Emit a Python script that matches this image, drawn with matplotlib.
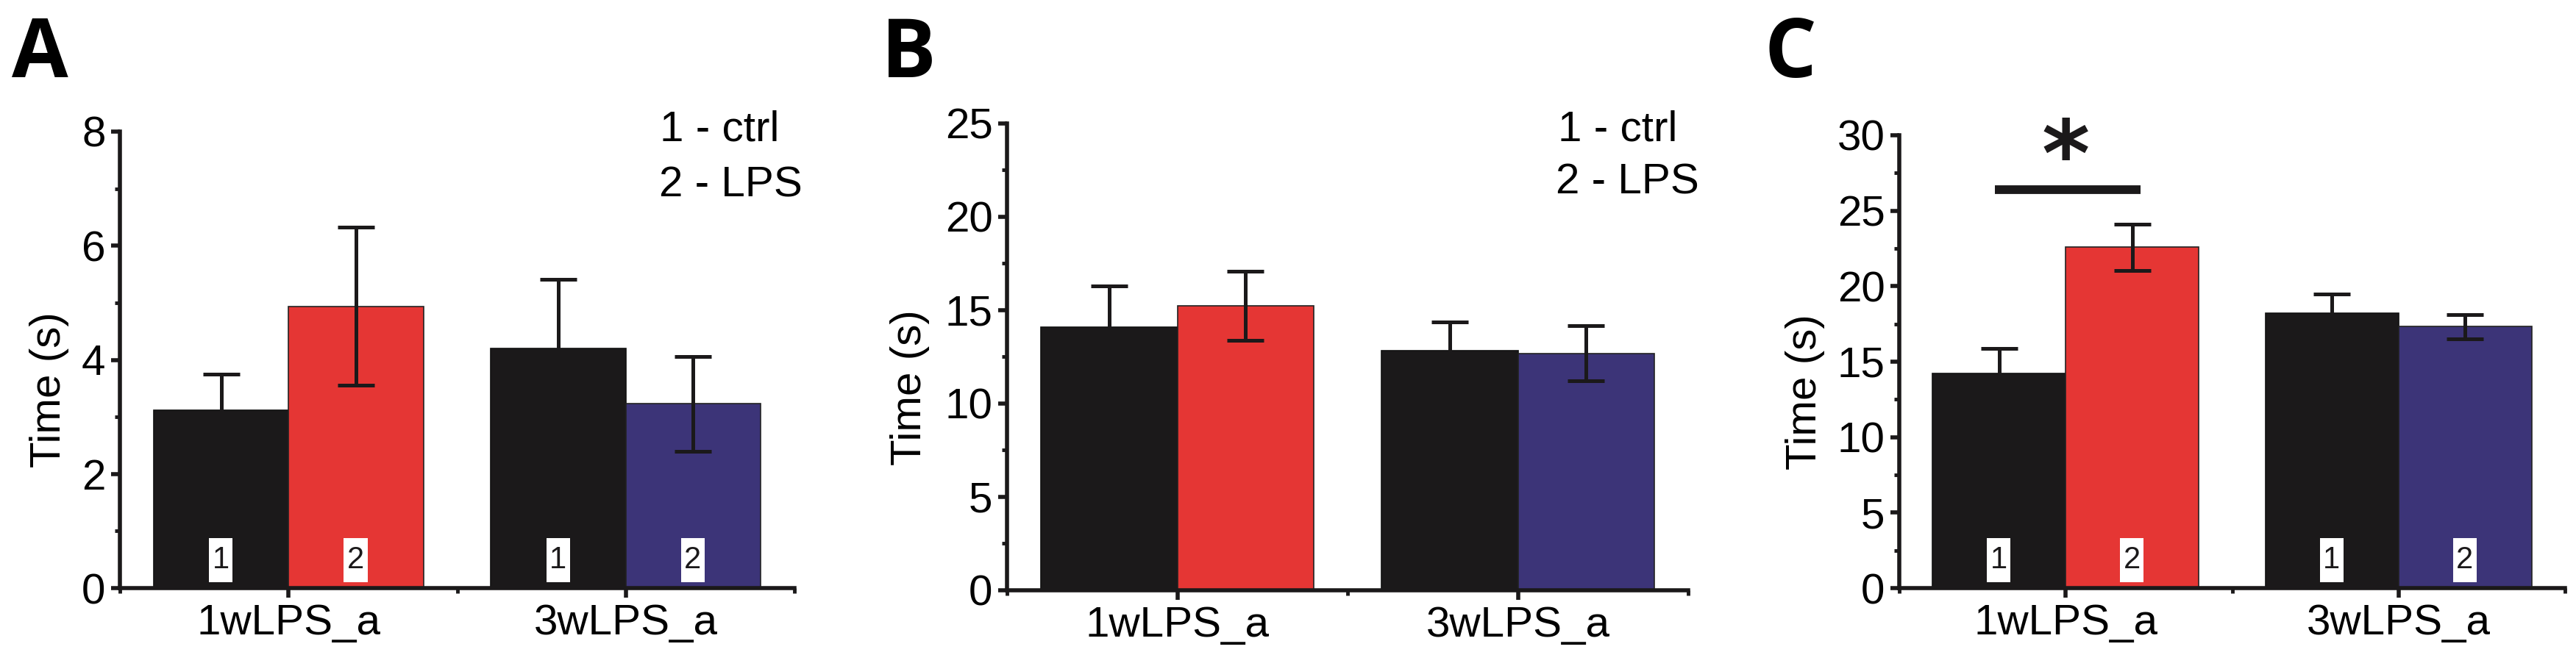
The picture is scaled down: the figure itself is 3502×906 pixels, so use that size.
import matplotlib
matplotlib.use("Agg")
import matplotlib.pyplot as plt
from matplotlib import font_manager
from matplotlib.patches import Rectangle
from matplotlib.ticker import MultipleLocator, FixedLocator

# values
groups = ["1wLPS_a", "3wLPS_a"]
ctrl_a = [3.12, 4.20]
ctrl_a_err = [0.63, 1.21]
lps_a = [4.94, 3.23]
lps_a_err = [1.38, 0.83]

ctrl_b = [14.09, 12.84]
ctrl_b_err = [2.20, 1.52]
lps_b = [15.23, 12.68]
lps_b_err = [1.86, 1.47]

ctrl_c = [14.20, 18.22]
ctrl_c_err = [1.68, 1.26]
lps_c = [22.58, 17.32]
lps_c_err = [1.53, 0.79]

BLACK = "#1b191a"
RED = "#e53634"
BLUE = "#3c3478"
lps_colors = [RED, BLUE]

names = {f.name for f in font_manager.fontManager.ttflist}
MAIN = "Liberation Sans" if "Liberation Sans" in names else "DejaVu Sans"
NARROW = "Liberation Sans Narrow" if "Liberation Sans Narrow" in names else MAIN
BOLD = "Open Sans" if "Open Sans" in names else MAIN

plt.rcParams["font.family"] = [MAIN, "DejaVu Sans"]

W, H = 3502, 906
fig = plt.figure(figsize=(W / 100, H / 100), dpi=100)


def px_rect(left, right, bottom, top):
    return [left / W, 1 - bottom / H, (right - left) / W, (bottom - top) / H]


def panel(rect, ctrl, ctrl_err, lps, lps_err, ymax, major, minor, ylab_x, boxes):
    ax = fig.add_axes(rect)
    x = [1, 2]
    xc = [v - 0.2 for v in x]
    xl = [v + 0.2 for v in x]
    ax.bar(xc, ctrl, width=0.4, color=BLACK, edgecolor="#111111", linewidth=1.2, zorder=2)
    ax.bar(xl, lps, width=0.4, color=lps_colors, edgecolor="#222222", linewidth=1.2, zorder=2)
    ax.errorbar(xc + xl, ctrl + lps, yerr=ctrl_err + lps_err, fmt="none",
                ecolor=BLACK, elinewidth=3.6, capsize=18, capthick=3.6, zorder=3)
    ax.set_xlim(0.5, 2.5)
    ax.set_ylim(0, ymax)
    for s in ["top", "right"]:
        ax.spines[s].set_visible(False)
    for s in ["left", "bottom"]:
        ax.spines[s].set_linewidth(4)
        ax.spines[s].set_color(BLACK)
    ax.yaxis.set_major_locator(MultipleLocator(major))
    ax.yaxis.set_minor_locator(MultipleLocator(minor))
    ax.xaxis.set_major_locator(FixedLocator(x))
    ax.xaxis.set_minor_locator(FixedLocator([0.5, 1.5, 2.5]))
    ax.set_xticklabels(groups)
    ax.tick_params(which="major", direction="out", length=9, width=4, color=BLACK,
                   labelsize=42, pad=5)
    ax.tick_params(which="minor", direction="out", length=5, width=3.5, color=BLACK)
    ax.tick_params(axis="x", which="major", pad=6)
    ax.set_ylabel("Time (s)", fontsize=42)
    ax.yaxis.set_label_coords(ylab_x, 0.434)
    if boxes:
        tr = ax.get_xaxis_transform()
        for i, xx in enumerate(xc + xl):
            num = "1" if i < 2 else "2"
            ax.add_patch(Rectangle((xx - 0.036, 0.013), 0.07, 0.097, transform=tr,
                                   facecolor="white", edgecolor="none", zorder=4))
            ax.text(xx - 0.001, 0.061, num, transform=tr, ha="center", va="center",
                    fontsize=30, family=NARROW, color=BLACK, zorder=5)
    return ax


ax_a = panel(px_rect(163, 1080, 800, 179), ctrl_a, ctrl_a_err, lps_a, lps_a_err,
             8, 2, 1, -0.075, True)
ax_b = panel(px_rect(1369, 2295, 803, 167.5), ctrl_b, ctrl_b_err, lps_b, lps_b_err,
             25, 5, 2.5, -0.113, False)
ax_c = panel(px_rect(2582, 3487, 800, 184), ctrl_c, ctrl_c_err, lps_c, lps_c_err,
             30, 5, 2.5, -0.112, True)

# legend texts
for lx, ly in [(897, 192), (2118, 191)]:
    fig.text(lx / W, 1 - ly / H, "1 - ctrl", fontsize=42, va="baseline", ha="left")
for lx, ly in [(896, 267), (2115, 263)]:
    fig.text(lx / W, 1 - ly / H, "2 - LPS", fontsize=42, va="baseline", ha="left")

# panel letters
for lx, letter in [(16, "A"), (1198, "B"), (2398, "C")]:
    fig.text(lx / W, 1 - 105 / H, letter, fontsize=80, fontweight="bold",
             family=[BOLD, "DejaVu Sans"], va="baseline", ha="left")

# significance mark in C
ax_c.plot([0.787, 1.225], [26.4, 26.4], color=BLACK, linewidth=8.5,
          solid_capstyle="butt", zorder=3)
ax_c.text(1.0, 28.3, "*", fontsize=90, fontweight="bold", family="DejaVu Sans",
          ha="center", va="center", color=BLACK)

fig.savefig("out.png", dpi=100)
